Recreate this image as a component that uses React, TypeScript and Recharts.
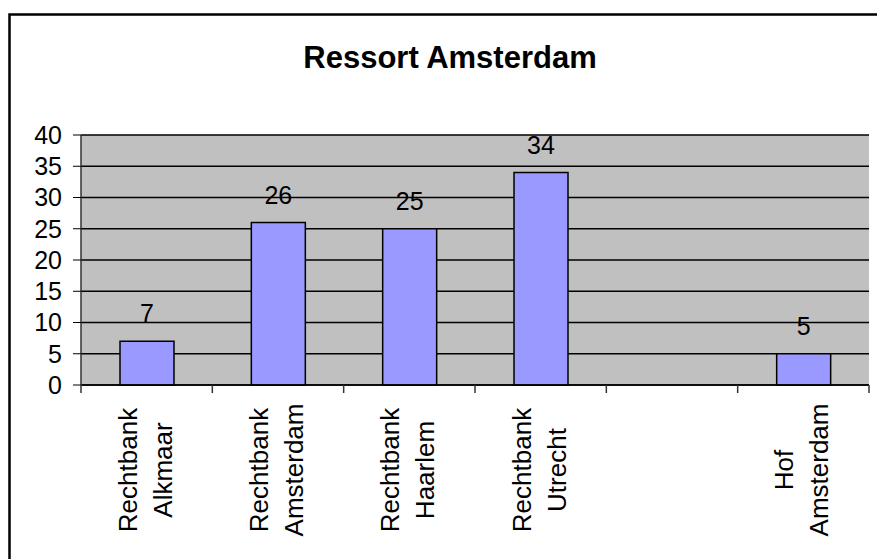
import { BarChart, Bar, XAxis, YAxis, CartesianGrid, LabelList } from "recharts";

const categories = ["Rechtbank\nAlkmaar", "Rechtbank\nAmsterdam", "Rechtbank\nHaarlem", "Rechtbank\nUtrecht", "", "Hof\nAmsterdam"];
const values = [7, 26, 25, 34, null, 5];
const yTicks = [0, 5, 10, 15, 20, 25, 30, 35, 40];

const data = categories.map((name, i) => ({ name, value: values[i] }));

const FONT = "'Liberation Sans', Arial, sans-serif";

// category label, rotated, plus a tick mark at the left edge of the band
function CategoryTick(props: any) {
  const { x, y, payload, index, visibleTicksCount } = props;
  const half = payload.offset || 0;
  const lines = String(payload.value).split("\n").filter((s) => s.length);
  const last = index === visibleTicksCount - 1;
  return (
    <g>
      <line x1={x - half} x2={x - half} y1={y} y2={y + 8} stroke="#333" strokeWidth={1.5} />
      {last && <line x1={x + half} x2={x + half} y1={y} y2={y + 8} stroke="#333" strokeWidth={1.5} />}
      <g transform={`translate(${x},${y + 85}) rotate(-90)`}>
        <text textAnchor="middle" fontSize={26} fontFamily={FONT} fill="#000">
          {lines.map((l, i) => (
            <tspan key={i} x={0} y={i === 0 ? -10 : 25}>
              {l}
            </tspan>
          ))}
        </text>
      </g>
    </g>
  );
}

export default function App() {
  return (
    <div style={{ position: "absolute", left: 0, top: 0, width: 877, height: 559, overflow: "hidden", background: "#fff" }}>
      <svg width={877} height={559} style={{ position: "absolute", left: 0, top: 0 }}>
        <rect x={9.5} y={14.5} width={1000} height={1000} fill="none" stroke="#000" strokeWidth={2.5} />
        <text x={450} y={68} textAnchor="middle" fontSize={31} fontWeight="bold" fontFamily={FONT} fill="#000">
          Ressort Amsterdam
        </text>
      </svg>
      <div style={{ position: "absolute", left: 0, top: 0 }}>
        <BarChart width={877} height={559} data={data} margin={{ top: 135, right: 8, bottom: 0, left: 0 }} barCategoryGap="30%">
          <CartesianGrid vertical={false} stroke="#000" strokeWidth={1.4} fill="#C0C0C0" fillOpacity={1} />
          <XAxis
            dataKey="name"
            height={174}
            interval={0}
            tickSize={0}
            tickMargin={0}
            tickLine={false}
            axisLine={{ stroke: "#000", strokeWidth: 1.5 }}
            tick={<CategoryTick />}
          />
          <XAxis xAxisId="top" orientation="top" height={0} tick={false} tickLine={false} axisLine={{ stroke: "#808080", strokeWidth: 1.5 }} />
          <YAxis
            domain={[0, 40]}
            ticks={yTicks}
            width={81}
            tickSize={8}
            tickMargin={11}
            interval={0}
            tickLine={{ stroke: "#000" }}
            axisLine={{ stroke: "#333", strokeWidth: 1.5 }}
            tick={{ fontSize: 25, fontFamily: FONT, fill: "#000" }}
          />
          <YAxis yAxisId="right" orientation="right" width={0} tick={false} tickLine={false} axisLine={{ stroke: "#808080", strokeWidth: 1.5 }} />
          <Bar dataKey="value" fill="#9999FF" stroke="#000" strokeWidth={1.5} barSize={54} isAnimationActive={false}>
            <LabelList dataKey="value" position="top" offset={19} fontSize={25} fontFamily={FONT} fill="#000" />
          </Bar>
        </BarChart>
      </div>
    </div>
  );
}
